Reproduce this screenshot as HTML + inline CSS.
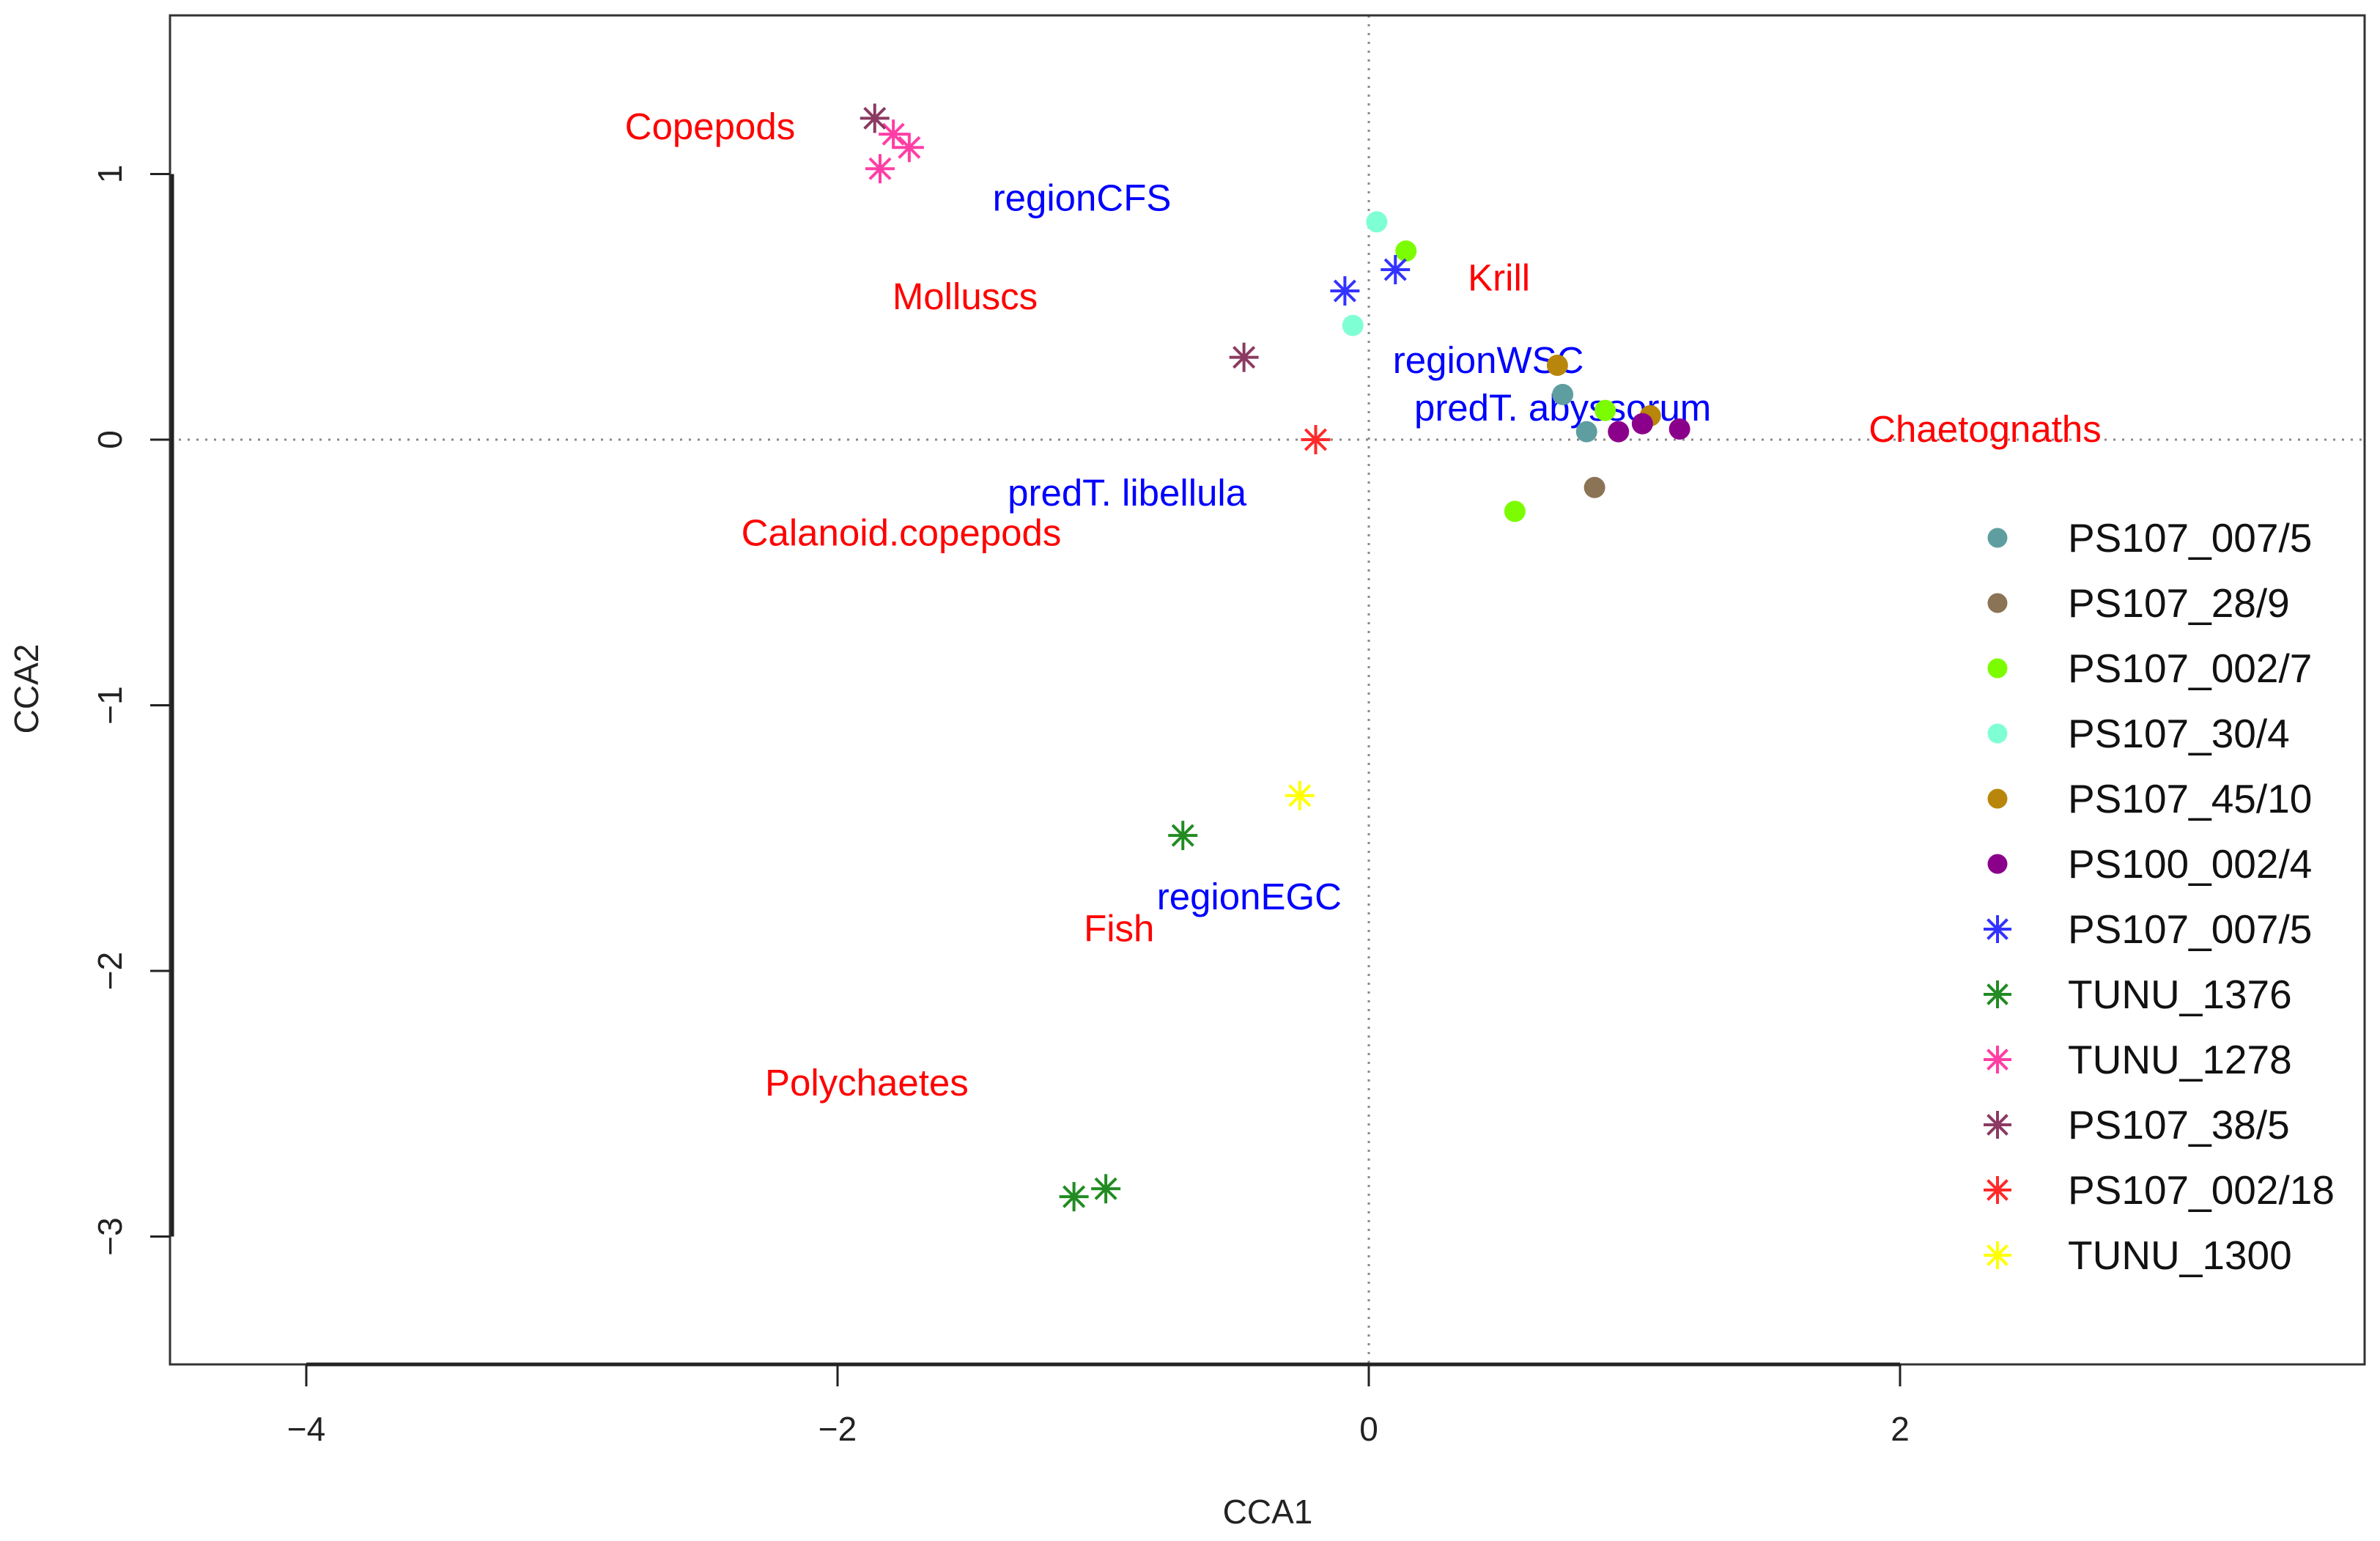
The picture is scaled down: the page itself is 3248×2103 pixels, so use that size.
<!DOCTYPE html>
<html><head><meta charset="utf-8"><style>
html,body{margin:0;padding:0;background:#fff;}
svg{display:block;font-family:"Liberation Sans",Arial,sans-serif;}
</style></head><body>
<svg id="chart" width="3248" height="2103" xmlns="http://www.w3.org/2000/svg">
<g id="plot"></g>
</svg>
<script>
const xTicks=[-4,-2,0,2];
const yTicks=[1,0,-1,-2,-3];
const circleSeries=["PS107_007/5","PS107_28/9","PS107_002/7","PS107_30/4","PS107_45/10","PS100_002/4"];
const circleColors=["#5f9ea0","#8b7355","#7cfc00","#7fffd4","#b8860b","#8b008b"];
const circleX=[[0.73,0.82],[0.85],[0.14,0.55,0.89],[0.03,-0.06],[0.71,1.06],[0.94,1.03,1.17]];
const circleY=[[0.17,0.03],[-0.18],[0.71,-0.27,0.11],[0.82,0.43],[0.28,0.09],[0.03,0.06,0.04]];
const starSeries=["PS107_007/5","TUNU_1376","TUNU_1278","PS107_38/5","PS107_002/18","TUNU_1300"];
const starColors=["#3333ff","#228b22","#ff3ea5","#8b3a62","#ff2a2a","#ffff00"];
const starX=[[-0.09,0.10],[-0.70,-1.11,-0.99],[-1.84,-1.79,-1.73],[-1.86,-0.47],[-0.20],[-0.26]];
const starY=[[0.56,0.64],[-1.49,-2.85,-2.82],[1.02,1.15,1.10],[1.21,0.31],[0.0],[-1.34]];
const labelNames=["Copepods","regionCFS","Molluscs","Krill","regionWSC","predT. abyssorum","Chaetognaths","predT. libellula","Calanoid.copepods","regionEGC","Fish","Polychaetes"];
const labelX=[-2.48,-1.08,-1.52,0.49,0.45,0.73,2.32,-0.91,-1.76,-0.45,-0.94,-1.89];
const labelY=[1.18,0.91,0.54,0.61,0.30,0.12,0.04,-0.20,-0.35,-1.72,-1.84,-2.42];
const labelColors=["r","b","r","r","b","b","r","b","r","b","r","r"];

const NS="http://www.w3.org/2000/svg";
const g=document.getElementById('plot');
const L=232,R=3227,T=21,B=1862;
const X0=1868,Y0=600,S=362.5;
const sx=v=>X0+v*S, sy=v=>Y0-v*S;
function mk(tag,at,parent){const e=document.createElementNS(NS,tag);for(const k in at)e.setAttribute(k,at[k]);(parent||g).appendChild(e);return e;}

// reference lines
let e=mk('line',{x1:L,x2:R,y1:sy(0),y2:sy(0),stroke:'#888','stroke-width':3,'stroke-dasharray':'3 9'});


e=mk('line',{x1:sx(0),x2:sx(0),y1:T,y2:B,stroke:'#888','stroke-width':3,'stroke-dasharray':'3 9'});



// box
e=mk('rect',{x:L,y:T,width:R-L,height:B-T,fill:'none',stroke:'#333','stroke-width':3});



// x axis
e=mk('line',{x1:sx(xTicks[0]),x2:sx(xTicks[xTicks.length-1]),y1:B,y2:B,stroke:'#222','stroke-width':5});


xTicks.forEach(v=>{
  let t=mk('line',{x1:sx(v),x2:sx(v),y1:B,y2:B+30,stroke:'#222','stroke-width':3});
  
  
  let l=mk('text',{x:sx(v),y:1950,'font-size':46,'text-anchor':'middle','dominant-baseline':'central',fill:'#222'});
  l.textContent=(v<0?'\u2212':'')+Math.abs(v);
  
  
});
e=mk('text',{x:1730,y:2063,'font-size':46,'text-anchor':'middle','dominant-baseline':'central',fill:'#222'});
e.textContent='CCA1';



// y axis
e=mk('line',{x1:L+3,x2:L+3,y1:sy(yTicks[0]),y2:sy(yTicks[yTicks.length-1]),stroke:'#222','stroke-width':5});


yTicks.forEach(v=>{
  let t=mk('line',{x1:205,x2:L,y1:sy(v),y2:sy(v),stroke:'#222','stroke-width':3});
  
  
  let l=mk('text',{x:150,y:sy(v),'font-size':46,'text-anchor':'middle','dominant-baseline':'central',fill:'#222',transform:`rotate(-90 150 ${sy(v)})`});
  l.textContent=(v<0?'\u2212':'')+Math.abs(v);
  
  
});
e=mk('text',{x:36,y:940,'font-size':46,'text-anchor':'middle','dominant-baseline':'central',fill:'#222',transform:'rotate(-90 36 940)'});
e.textContent='CCA2';



function star(cx,cy,r,col,parent){
  const s=mk('g',{stroke:col,'stroke-width':4},parent);
  const d=r*0.7071;
  mk('line',{x1:cx-r,x2:cx+r,y1:cy,y2:cy},s);
  mk('line',{x1:cx,x2:cx,y1:cy-r,y2:cy+r},s);
  mk('line',{x1:cx-d,x2:cx+d,y1:cy-d,y2:cy+d},s);
  mk('line',{x1:cx-d,x2:cx+d,y1:cy+d,y2:cy-d},s);
  return s;
}

// labels (drawn before points)
labelNames.forEach((n,i)=>{
  let t=mk('text',{x:sx(labelX[i]),y:sy(labelY[i]),'font-size':51,'text-anchor':'middle','dominant-baseline':'central',fill:labelColors[i]==='r'?'#ff0000':'#0000ff'});
  t.textContent=n;
  
  
});

// circle points
circleSeries.forEach((n,i)=>{
  circleX[i].forEach((v,j)=>{
    let c=mk('circle',{cx:sx(v),cy:sy(circleY[i][j]),r:14.5,fill:circleColors[i]});
    
    
  });
});
// star points
starSeries.forEach((n,i)=>{
  starX[i].forEach((v,j)=>{
    let s=star(sx(v),sy(starY[i][j]),20,starColors[i]);
    
    
  });
});

// legend
const lg=mk('g',{});


const allNames=circleSeries.concat(starSeries);
allNames.forEach((n,i)=>{
  const y=734+i*89;
  const row=mk('g',{},lg);
  
  
  if(i<circleSeries.length){
    mk('circle',{cx:2726,cy:y,r:13.5,fill:circleColors[i]},row);
  } else {
    star(2726,y,19,starColors[i-circleSeries.length],row);
  }
  const t=mk('text',{x:2822,y:y,'font-size':55,'dominant-baseline':'central',fill:'#111'},row);
  t.textContent=n;
});
</script>
</body></html>
